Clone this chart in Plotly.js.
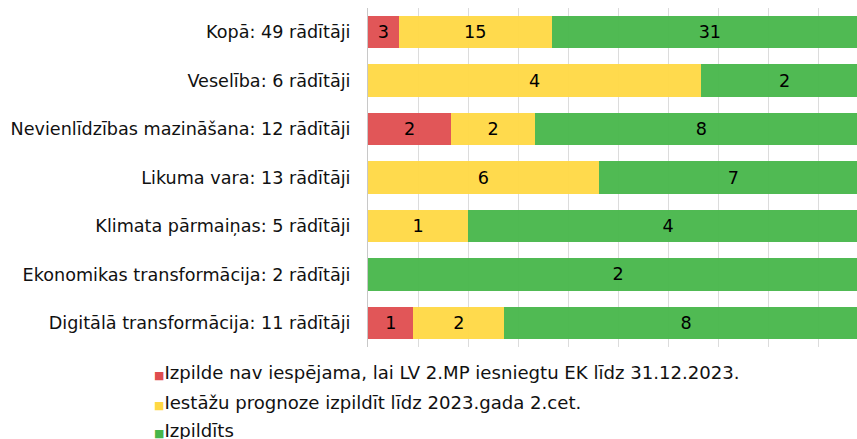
<!DOCTYPE html>
<html>
<head>
<meta charset="utf-8">
<script src="https://cdn.plot.ly/plotly-3.0.1.min.js"></script>
<style>html,body{margin:0;padding:0;background:#fff;}#chart{width:857px;height:439px;}</style>
</head>
<body>
<div id="chart"></div>
<script>
const categories = [
  "Kopā: 49 rādītāji",
  "Veselība: 6 rādītāji",
  "Nevienlīdzības mazināšana: 12 rādītāji",
  "Likuma vara: 13 rādītāji",
  "Klimata pārmaiņas: 5 rādītāji",
  "Ekonomikas transformācija: 2 rādītāji",
  "Digitālā transformācija: 11 rādītāji"
];
const notPossible = [3, 0, 2, 0, 0, 0, 1];
const forecast    = [15, 4, 2, 6, 1, 0, 2];
const done        = [31, 2, 8, 7, 4, 2, 8];
const seriesNames = [
  "Izpilde nav iespējama, lai LV 2.MP iesniegtu EK līdz 31.12.2023.",
  "Iestāžu prognoze izpildīt līdz 2023.gada 2.cet.",
  "Izpildīts"
];
const seriesColors = ["#DF4D4F", "#FFD843", "#47B64A"];
const seriesValues = [notPossible, forecast, done];

const FONT = "DejaVu Sans, Verdana, sans-serif";
const FS = 17.6;
const LFS = 18.1;

const traces = seriesValues.map((vals, i) => ({
  type: "bar",
  orientation: "h",
  name: seriesNames[i],
  y: categories,
  x: vals,
  text: vals.map(v => v ? String(v) : ""),
  textposition: "inside",
  insidetextanchor: "middle",
  textangle: 0,
  textfont: {family: FONT, size: FS, color: "#000"},
  marker: {color: seriesColors[i], opacity: 0.95, line: {width: 0}},
  hoverinfo: "x+y+name",
  showlegend: false
}));

const legendRowsY = [-0.076, -0.163, -0.245];
const annotations = seriesNames.map((n, i) => ({
  xref: "paper", yref: "paper",
  x: -0.442, y: legendRowsY[i],
  xanchor: "left", yanchor: "middle",
  showarrow: false,
  align: "left",
  text: "<span style='color:" + seriesColors[i] + ";font-size:11px'>■</span>" + n,
  font: {family: FONT, size: LFS, color: "#111"}
}));

const layout = {
  width: 857, height: 439,
  margin: {l: 368, r: 0, t: 8, b: 92},
  paper_bgcolor: "#fff", plot_bgcolor: "#fff",
  barmode: "stack",
  barnorm: "fraction",
  bargap: 0.333,
  font: {family: FONT, size: FS, color: "#111"},
  xaxis: {
    range: [0, 0.978],
    dtick: 0.1,
    showticklabels: false,
    showgrid: true,
    gridcolor: "#dcdcdc",
    gridwidth: 1,
    zeroline: false,
    showline: false,
    fixedrange: true
  },
  yaxis: {
    autorange: "reversed",
    showline: true,
    linecolor: "#c8c8c8",
    linewidth: 1,
    ticks: "",
    ticklabelstandoff: 13,
    tickfont: {family: FONT, size: FS, color: "#111"},
    showgrid: false,
    zeroline: false
  },
  annotations: annotations
};

Plotly.newPlot("chart", traces, layout, {displayModeBar: false, staticPlot: true});
</script>
</body>
</html>
